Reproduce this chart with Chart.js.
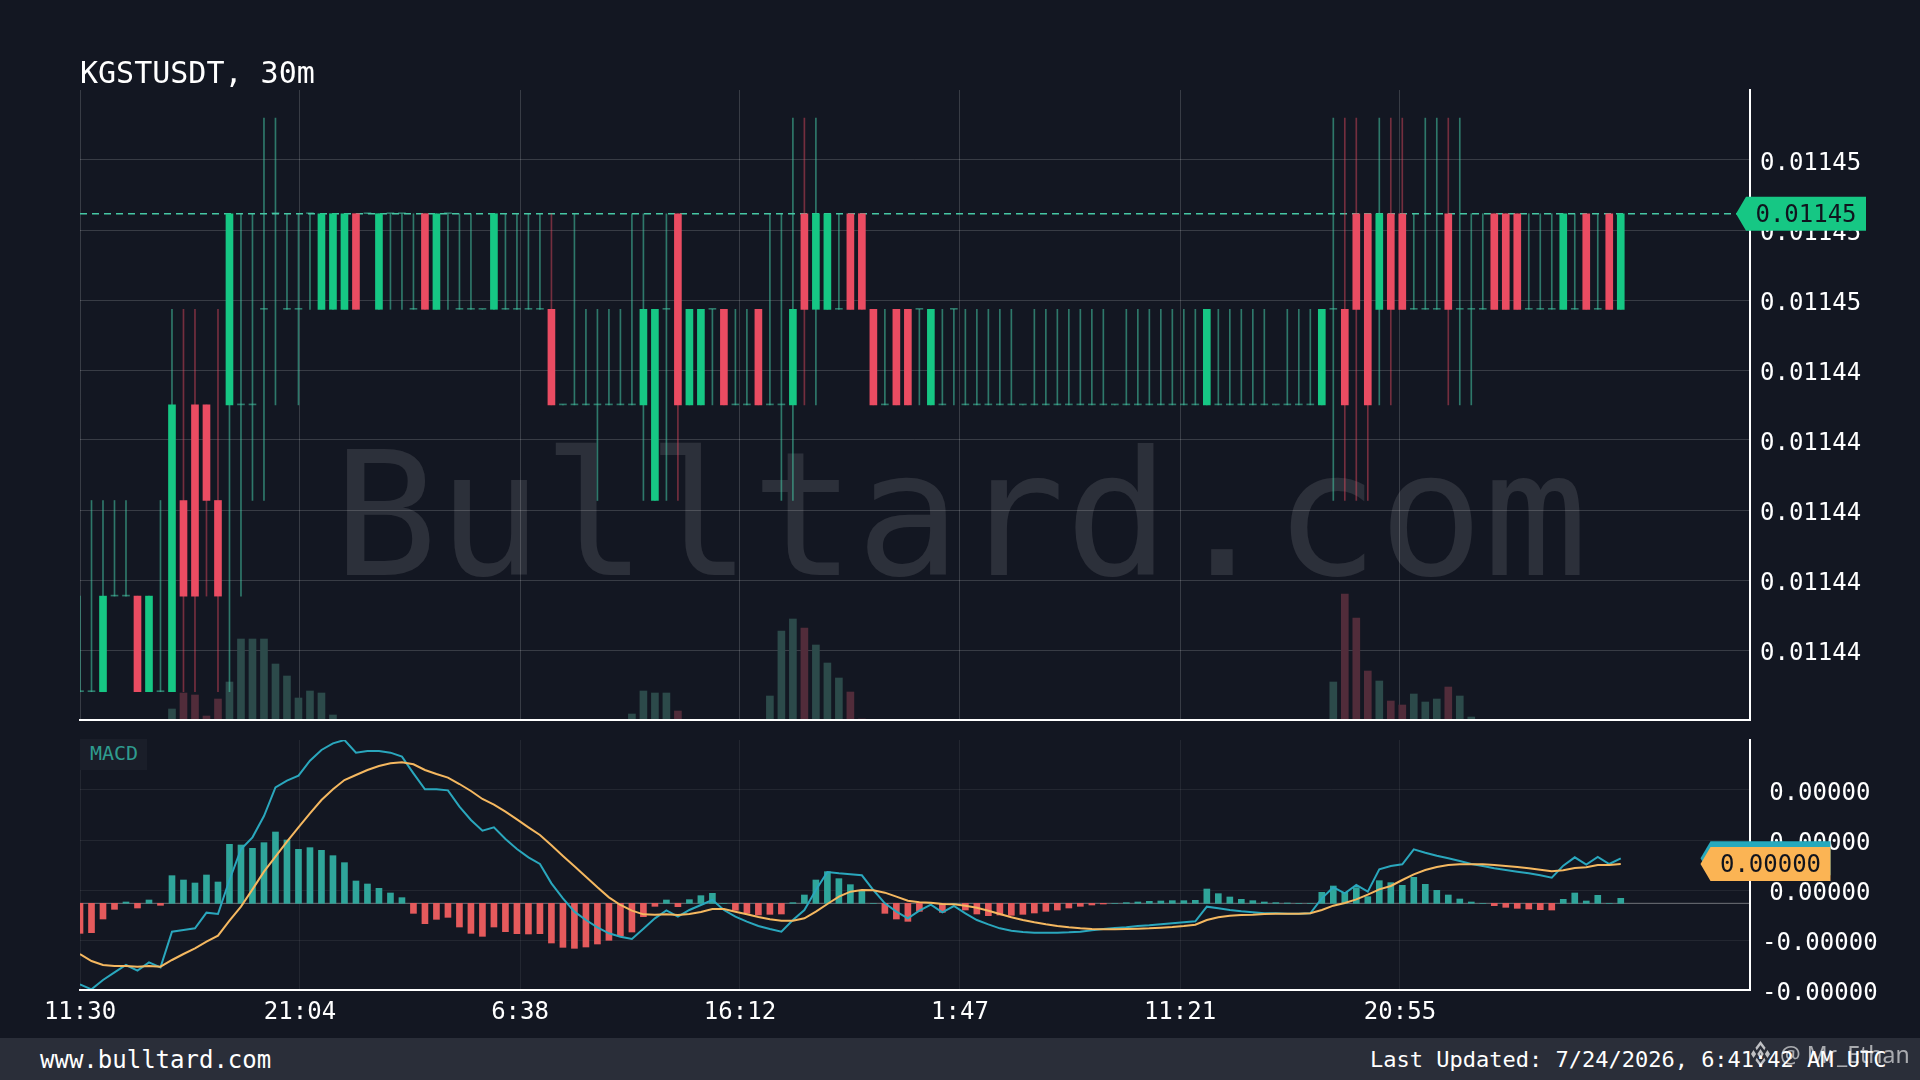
<!DOCTYPE html>
<html>
<head>
<meta charset="utf-8">
<title>KGSTUSDT, 30m</title>
<script src="https://cdn.jsdelivr.net/npm/chart.js@4/dist/chart.umd.min.js"></script>
<style>
  html, body { margin: 0; padding: 0; background: #131722; width: 1920px; height: 1080px; overflow: hidden; }
  body { position: relative; font-family: "DejaVu Sans Mono", monospace; color: #fff; }
  canvas { position: absolute; left: 0; }
  #priceChart { top: 0; }
  #macdChart { top: 735px; }
  #title { position: absolute; left: 80px; top: 55px; font-size: 30px; line-height: 36px; }
  #macdTag { position: absolute; left: 80px; top: 739px; width: 67px; height: 31px; background: #1a1e29; color: #2f9c8f; font-size: 20px; line-height: 29px; text-indent: 10px; }
  #footer { position: absolute; left: 0; top: 1038px; width: 1920px; height: 42px; background: #2a2e39; }
  #site { position: absolute; left: 40px; top: 1046px; font-size: 24px; line-height: 28px; }
  #updated { position: absolute; left: 1370px; top: 1047px; font-size: 22px; line-height: 26px; white-space: nowrap; }
  #credit { position: absolute; left: 1780px; top: 1037px; font-family: "Noto Sans", sans-serif; font-size: 23px; line-height: 34px; color: rgba(255,255,255,.6); white-space: nowrap; }
  #logo { position: absolute; left: 1751px; top: 1040px; }
</style>
</head>
<body>
<canvas id="priceChart" width="1920" height="735"></canvas>
<canvas id="macdChart" width="1920" height="303"></canvas>
<div id="title">KGSTUSDT, 30m</div>
<div id="macdTag">MACD</div>
<div id="footer"></div>
<div id="site">www.bulltard.com</div>
<div id="updated">Last Updated: 7/24/2026, 6:41:42 AM UTC</div>
<svg id="logo" width="19" height="28" viewBox="0 0 30 28" preserveAspectRatio="none" fill="none" stroke="rgba(255,255,255,.7)" stroke-width="3">
  <path d="M8 9 L15 3 L22 9"/><path d="M8 19 L15 25 L22 19"/><path d="M12 14 L15 11 L18 14 L15 17 Z"/><path d="M2 14 L4 12 L6 14 L4 16 Z"/><path d="M24 14 L26 12 L28 14 L26 16 Z"/>
</svg>
<div id="credit">@ Mr_Ethan</div>

<script>
// prices are in ticks of 0.000001 above 0.01144
const PRICE_BASE = 0.01144;
const PRICE_TICK = 0.000001;
const MACD_UNIT = 0.000000001;

const opens = [
  1,1,1,2,2,2,1,1,1,3,
  4,4,3,4,4,4,5,6,5,5,
  6,5,5,5,6,6,5,6,6,5,
  6,5,6,5,5,5,5,5,5,5,
  5,5,4,4,4,4,4,4,4,4,
  3,5,6,4,4,5,5,4,4,5,
  4,4,4,6,5,5,5,6,6,5,
  4,5,5,5,4,4,5,4,4,4,
  4,4,4,4,4,4,4,4,4,4,
  4,4,4,4,4,4,4,4,4,4,
  4,4,4,4,4,4,4,4,4,5,
  5,6,6,5,6,6,5,5,5,6,
  5,5,5,6,6,6,5,5,5,5,
  5,6,5,6,5
];
const closes = [
  1,1,2,2,2,1,2,1,4,2,
  2,3,2,6,4,4,5,6,5,5,
  6,6,6,6,5,6,6,6,6,5,
  5,6,6,5,5,5,6,5,5,5,
  5,4,4,4,4,4,4,4,4,5,
  5,5,4,5,5,5,4,4,4,4,
  4,4,5,5,6,6,5,5,5,4,
  4,4,4,5,5,4,5,4,4,4,
  4,4,4,4,4,4,4,4,4,4,
  4,4,4,4,4,4,4,4,5,4,
  4,4,4,4,4,4,4,4,5,5,
  4,5,4,6,5,5,5,5,5,5,
  5,5,5,5,5,5,5,5,5,6,
  5,5,5,5,6
];
const highs = [
  2,3,3,3,3,2,2,3,5,5,
  5,4,5,6,6,6,7,7,6,6,
  6,6,6,6,6,6,6,6,6,6,
  6,6,6,6,6,5,6,6,6,6,
  6,6,4,6,5,5,5,5,6,6,
  5,6,6,5,5,5,5,5,5,5,
  6,6,7,7,7,6,6,6,6,5,
  5,5,5,5,5,5,5,5,5,5,
  5,5,4,5,5,5,5,5,5,5,
  4,5,5,5,5,5,5,5,5,5,
  5,5,5,5,4,5,5,5,5,7,
  7,7,6,7,7,7,6,7,7,7,
  7,6,6,6,6,6,6,6,6,6,
  6,6,6,6,6
];
const lows = [
  1,1,1,2,2,1,1,1,1,1,
  1,2,1,1,2,3,3,4,5,4,
  5,5,5,5,5,6,5,5,5,5,
  5,5,5,5,5,5,5,5,5,5,
  5,4,4,4,4,3,4,4,4,3,
  3,3,3,4,4,4,4,4,4,4,
  4,3,3,4,4,5,5,5,5,4,
  4,4,4,4,4,4,4,4,4,4,
  4,4,4,4,4,4,4,4,4,4,
  4,4,4,4,4,4,4,4,4,4,
  4,4,4,4,4,4,4,4,4,3,
  3,3,3,4,4,5,5,5,5,4,
  4,4,5,5,5,5,5,5,5,5,
  5,5,5,5,5
];
const volumes = [
  0,0,0,0,0,0,0,0,11,27,
  25,4,21,38,81,81,81,56,44,22,
  29,27,5,0,0,0,0,0,0,0,
  0,0,0,0,0,0,0,0,0,0,
  0,0,0,0,0,0,0,0,6,29,
  27,27,9,0,0,0,0,0,0,0,
  24,89,101,92,75,57,42,28,1,0,
  0,0,0,0,0,0,0,0,0,0,
  0,0,0,0,0,0,0,0,0,0,
  0,0,0,0,0,0,0,0,0,0,
  0,0,0,0,0,0,0,0,0,38,
  126,102,49,39,19,15,26,18,21,33,
  24,3,0,0,0,0,0,0,0,0,
  0,0,0,0,0
];
const macdLine = [
  -243,-258,-230,-207,-185,-202,-177,-192,-85,-80,
  -75,-28,-32,70,162,198,262,348,368,383,
  428,460,480,490,452,457,457,452,440,390,
  342,342,339,290,250,218,228,193,163,138,
  118,60,15,-25,-50,-72,-90,-100,-107,-76,
  -45,-21,-40,-20,-5,10,-20,-40,-55,-68,
  -77,-85,-50,-20,40,94,90,87,84,40,
  0,-25,-45,-22,-4,-27,-8,-30,-50,-63,
  -75,-82,-86,-88,-88,-88,-87,-85,-81,-77,
  -74,-72,-68,-66,-63,-60,-57,-54,-10,-15,
  -20,-24,-27,-30,-30,-31,-31,-30,15,48,
  30,55,35,102,112,117,162,152,143,135,
  127,118,112,105,100,95,90,84,77,113,
  138,116,139,118,135
];
const signalLine = [
  -152,-173,-185,-188,-188,-190,-188,-190,-170,-152,
  -135,-115,-97,-52,-10,42,95,140,185,228,
  270,310,342,370,385,400,412,420,423,417,
  400,388,377,358,337,313,296,275,252,228,
  205,174,142,111,80,48,18,-5,-22,-33,
  -34,-33,-35,-32,-26,-17,-17,-25,-33,-41,
  -48,-52,-52,-45,-25,-2,20,35,40,39,
  32,20,8,3,2,-2,-3,-7,-13,-22,
  -32,-42,-50,-57,-63,-68,-72,-75,-77,-78,
  -78,-77,-76,-75,-73,-71,-68,-64,-50,-42,
  -37,-35,-34,-32,-31,-31,-31,-30,-20,-7,
  1,12,26,42,52,70,87,100,109,115,
  117,117,117,115,112,109,105,101,96,99,
  106,108,115,115,118
];
const histogram = [
  -90,-88,-47,-18,4,-14,10,-6,83,70,
  61,85,64,177,175,165,182,214,190,162,
  167,159,143,122,67,58,45,31,17,-30,
  -61,-48,-42,-71,-90,-99,-71,-85,-91,-92,
  -91,-119,-132,-135,-131,-122,-111,-98,-86,-40,
  -9,10,-10,11,23,30,0,-21,-30,-35,
  -33,-32,2,25,70,95,74,56,37,0,
  -30,-47,-54,-24,0,-27,0,-20,-32,-37,
  -35,-36,-33,-29,-24,-20,-14,-9,-5,-2,
  0,2,4,6,7,8,8,9,43,29,
  19,12,8,4,2,1,0,0,33,52,
  33,47,20,68,62,54,78,57,39,25,
  13,4,0,-7,-12,-15,-17,-19,-20,12,
  31,7,24,0,15
];
const timeLabels = ['11:30', '21:04', '6:38', '16:12', '1:47', '11:21', '20:55'];
const timeTicks = [0, 19.13, 38.27, 57.4, 76.53, 95.67, 114.8];
const priceTicks = [1.436, 2.168, 2.9, 3.633, 4.365, 5.097, 5.829, 6.562];
const macdTicks = [-260, -110, 40, 190, 340];

const X_MAX = 145.24;
const GREEN = '#16c784';
const RED = '#ea4c62';
const FONT = '"DejaVu Sans Mono", monospace';

const isUp = closes.map((c, i) => c >= opens[i]);
const candleIndex = closes.map((c, i) => i);
const lastPrice = closes[closes.length - 1];

function formatPrice(v) {
  return (PRICE_BASE + v * PRICE_TICK).toFixed(5);
}
function formatMacd(v) {
  return (v * MACD_UNIT).toFixed(5);
}

function setTicks(values) {
  return scale => { scale.ticks = values.map(v => ({ value: v })); };
}

// the axes keep their tick label overhang otherwise and the plot area shrinks
function fitRightAxis(scale) {
  scale.width = 170;
  scale.paddingTop = 0;
  scale.paddingBottom = 0;
}

// arrow shaped last value label on the right axis
function drawTag(chart, value, fill, text, left) {
  const ctx = chart.ctx;
  const y = chart.scales.y.getPixelForValue(value);
  ctx.save();
  ctx.fillStyle = fill;
  ctx.beginPath();
  ctx.moveTo(left, y);
  ctx.lineTo(left + 10, y - 17);
  ctx.lineTo(left + 130, y - 17);
  ctx.lineTo(left + 130, y + 17);
  ctx.lineTo(left + 10, y + 17);
  ctx.closePath();
  ctx.fill();
  if (text) {
    ctx.fillStyle = '#10141e';
    ctx.font = '24px ' + FONT;
    ctx.textAlign = 'center';
    ctx.textBaseline = 'middle';
    ctx.fillText(text, left + 70, y + 2);
  }
  ctx.restore();
}

const watermark = {
  id: 'watermark',
  beforeDraw(chart) {
    const ctx = chart.ctx;
    ctx.save();
    ctx.fillStyle = 'rgba(255,255,255,.11)';
    ctx.font = '173.7px ' + FONT;
    ctx.textAlign = 'center';
    ctx.textBaseline = 'alphabetic';
    ctx.fillText('Bulltard.com', 960.5, 575);
    ctx.restore();
  }
};

const priceTag = {
  id: 'priceTag',
  afterDraw(chart) {
    drawTag(chart, lastPrice, GREEN, formatPrice(lastPrice), 1736);
  }
};

const macdTags = {
  id: 'macdTags',
  afterDraw(chart) {
    const lastMacd = macdLine[macdLine.length - 1];
    const lastSignal = signalLine[signalLine.length - 1];
    drawTag(chart, lastMacd, '#26a9bd', '', 1700.5);
    drawTag(chart, lastSignal, '#fbb454', formatMacd(lastSignal), 1700.5);
  }
};

new Chart(document.getElementById('priceChart'), {
  type: 'bar',
  plugins: [watermark, priceTag],
  data: {
    datasets: [
      {
        label: 'Volume',
        yAxisID: 'vol',
        order: 5,
        grouped: false,
        barThickness: 7,
        data: candleIndex.map(i => ({ x: i, y: volumes[i] })),
        backgroundColor: isUp.map(u => u ? '#2c4a4a' : '#512c3a')
      },
      {
        type: 'line',
        label: 'Last price',
        order: 4,
        data: [{ x: 0, y: lastPrice }, { x: X_MAX, y: lastPrice }],
        borderColor: '#46c7a4',
        borderWidth: 1.5,
        borderDash: [7, 5],
        pointRadius: 0
      },
      {
        label: 'Wick',
        order: 3,
        grouped: false,
        barThickness: 1,
        data: candleIndex.map(i => ({ x: i, y: [lows[i], highs[i]] })),
        backgroundColor: isUp.map(u => u ? 'rgba(70,200,165,.55)' : 'rgba(234,76,98,.45)')
      },
      {
        label: 'Body',
        order: 2,
        grouped: false,
        barThickness: 7,
        minBarLength: 1,
        data: candleIndex.map(i => ({ x: i, y: [opens[i], closes[i]] })),
        backgroundColor: closes.map((c, i) => c === opens[i] ? 'rgba(70,200,165,.55)' : (isUp[i] ? GREEN : RED))
      }
    ]
  },
  options: {
    responsive: false,
    animation: false,
    events: [],
    layout: { padding: { left: 80, top: 90, right: 0, bottom: 15 } },
    plugins: { legend: { display: false }, tooltip: { enabled: false } },
    scales: {
      x: {
        type: 'linear',
        min: 0,
        max: X_MAX,
        offset: false,
        afterBuildTicks: setTicks(timeTicks),
        afterFit(scale) { scale.height = 0; },
        ticks: { display: false },
        grid: { color: 'rgba(255,255,255,.16)', offset: false, drawTicks: false },
        border: { color: '#fff', width: 2, z: 1 }
      },
      y: {
        position: 'right',
        min: 0.704,
        max: 7.294,
        afterBuildTicks: setTicks(priceTicks),
        afterFit: fitRightAxis,
        ticks: {
          color: '#fff',
          padding: 10,
          labelOffset: 4,
          font: { family: FONT, size: 24 },
          callback: formatPrice
        },
        grid: { color: 'rgba(255,255,255,.16)', drawTicks: false },
        border: { color: '#fff', width: 2, z: 1 }
      },
      vol: {
        display: false,
        position: 'right',
        min: 0,
        max: 630
      }
    }
  }
});

new Chart(document.getElementById('macdChart'), {
  type: 'bar',
  plugins: [macdTags],
  data: {
    datasets: [
      {
        type: 'line',
        label: 'Signal',
        order: 1,
        data: candleIndex.map(i => ({ x: i, y: signalLine[i] })),
        borderColor: '#f5b860',
        borderWidth: 2,
        tension: 0,
        pointRadius: 0
      },
      {
        type: 'line',
        label: 'MACD',
        order: 2,
        data: candleIndex.map(i => ({ x: i, y: macdLine[i] })),
        borderColor: '#2aa7bd',
        borderWidth: 2,
        tension: 0,
        pointRadius: 0
      },
      {
        label: 'Histogram',
        order: 3,
        barThickness: 6,
        data: candleIndex.map(i => ({ x: i, y: histogram[i] })),
        backgroundColor: histogram.map(h => h >= 0 ? '#2fa59a' : '#e55a5c')
      },
      {
        type: 'line',
        label: 'Zero',
        order: 4,
        data: [{ x: 0, y: 0 }, { x: X_MAX, y: 0 }],
        borderColor: 'rgba(255,255,255,.4)',
        borderWidth: 1,
        pointRadius: 0
      }
    ]
  },
  options: {
    responsive: false,
    animation: false,
    events: [],
    layout: { padding: { left: 80, top: 5, right: 0, bottom: 0 } },
    plugins: { legend: { display: false }, tooltip: { enabled: false } },
    scales: {
      x: {
        type: 'linear',
        min: 0,
        max: X_MAX,
        offset: false,
        afterBuildTicks: setTicks(timeTicks),
        afterFit(scale) { scale.height = 48; },
        ticks: {
          color: '#fff',
          padding: 8,
          maxRotation: 0,
          autoSkip: false,
          font: { family: FONT, size: 24 },
          callback: (v, i) => timeLabels[i]
        },
        grid: { color: 'rgba(255,255,255,.07)', offset: false, drawTicks: false },
        border: { color: '#fff', width: 2, z: 1 }
      },
      y: {
        position: 'right',
        min: -260,
        max: 490,
        afterBuildTicks: setTicks(macdTicks),
        afterFit: fitRightAxis,
        ticks: {
          color: '#fff',
          padding: 12,
          labelOffset: 4,
          crossAlign: 'center',
          font: { family: FONT, size: 24 },
          callback: formatMacd
        },
        grid: { color: 'rgba(255,255,255,.07)', drawTicks: false },
        border: { color: '#fff', width: 2, z: 1 }
      }
    }
  }
});
</script>
</body>
</html>
